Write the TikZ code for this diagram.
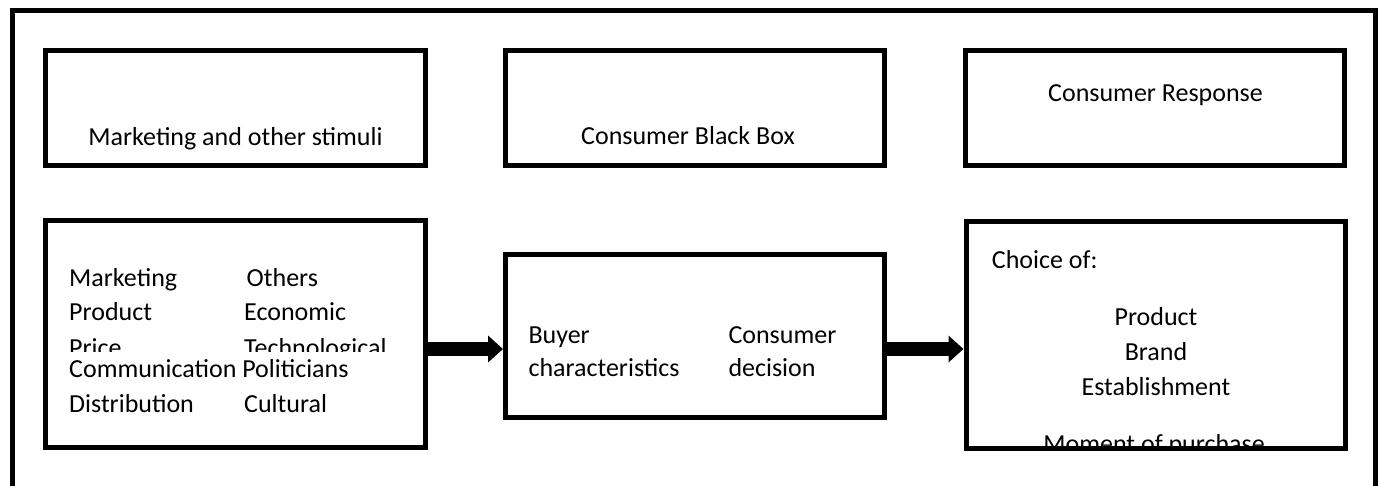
\documentclass[tikz,border=0pt]{standalone}
\usepackage{fontspec}
\setmainfont{Carlito}
\usetikzlibrary{arrows.meta}

\tikzset{
  panel/.style={draw, line width=5pt, rectangle, inner sep=0pt},
  txt/.style={inner sep=0pt, font=\fontsize{26}{34}\selectfont},
  bigarrow/.style={line width=14pt, -{Triangle[length=15pt, width=26pt]}},
  frame/.style={line width=5pt, line join=miter}
}

\begin{document}
\begin{tikzpicture}[x=1pt, y=-1pt]
  \useasboundingbox (0,0) rectangle (1380,485);
  \clip (0,0) rectangle (1380,485);

  % outer frame (open at the bottom)
  \draw[frame] (12.5,500) -- (12.5,10.5) -- (1375,10.5) -- (1375,500);

  % --- headings row ---
  \node[panel, minimum width=380pt, minimum height=114.5pt] (stimhead) at (235.5,107.75) {};
  \node[panel, minimum width=379pt, minimum height=114.5pt] (boxhead) at (695,107.75) {};
  \node[panel, minimum width=379pt, minimum height=114.5pt] (resphead) at (1155,107.75) {};

  \node[txt, anchor=base] (stimtitle) at (235.5,145.7) {Marketing and other stimuli};
  \node[txt, anchor=base] (boxtitle) at (688,144) {Consumer Black Box};
  \node[txt, anchor=base] (resptitle) at (1155.5,101.7) {Consumer Response};

  % --- stimuli panel ---
  \node[txt, anchor=base west] (mkt) at (69,286) {Marketing};
  \node[txt, anchor=base west] (oth) at (246.5,286) {Others};
  \node[txt, anchor=base west] (prod) at (69,320) {Product};
  \node[txt, anchor=base west] (eco) at (244,320) {Economic};
  \begin{scope}
    \clip (45,225) rectangle (430,351.5);
    \node[txt, anchor=base west] (price) at (69,356) {Price};
    \node[txt, anchor=base west] (tech) at (244,356) {Technological};
  \end{scope}
  \node[txt, anchor=base west] (comm) at (69,377) {Communication Politicians};
  \node[txt, anchor=base west] (dist) at (69,412) {Distribution};
  \node[txt, anchor=base west] (cult) at (244,412) {Cultural};
  \node[panel, minimum width=379.5pt, minimum height=226.5pt] (stim) at (235.25,333.75) {};

  % --- black box panel ---
  \node[txt, anchor=base west] (buyer) at (528.3,343.3) {Buyer};
  \node[txt, anchor=base west] (chars) at (528.3,376.7) {characteristics};
  \node[txt, anchor=base west] (cons) at (728.3,343.3) {Consumer};
  \node[txt, anchor=base west] (dec) at (728.3,376.7) {decision};
  \node[panel, minimum width=379pt, minimum height=163.5pt] (blackbox) at (695,335.75) {};

  % --- response panel ---
  \node[txt, anchor=base west] (choice) at (991.7,268) {Choice of:};
  \node[txt, anchor=base] (rprod) at (1156,325) {Product};
  \node[txt, anchor=base] (rbrand) at (1156,360) {Brand};
  \node[txt, anchor=base] (rest) at (1156,395) {Establishment};
  \begin{scope}
    \clip (966,221) rectangle (1345,447);
    \node[txt, anchor=base east] (moment) at (1265,452) {Moment of purchase};
  \end{scope}
  \node[panel, minimum width=379pt, minimum height=227pt] (resp) at (1155.5,334.5) {};

  % --- flow arrows ---
  \coordinate (flowrow) at (0,349);
  \draw[bigarrow] (stim.east |- flowrow) -- (blackbox.west |- flowrow);
  \draw[bigarrow] (blackbox.east |- flowrow) -- (resp.west |- flowrow);
\end{tikzpicture}
\end{document}
